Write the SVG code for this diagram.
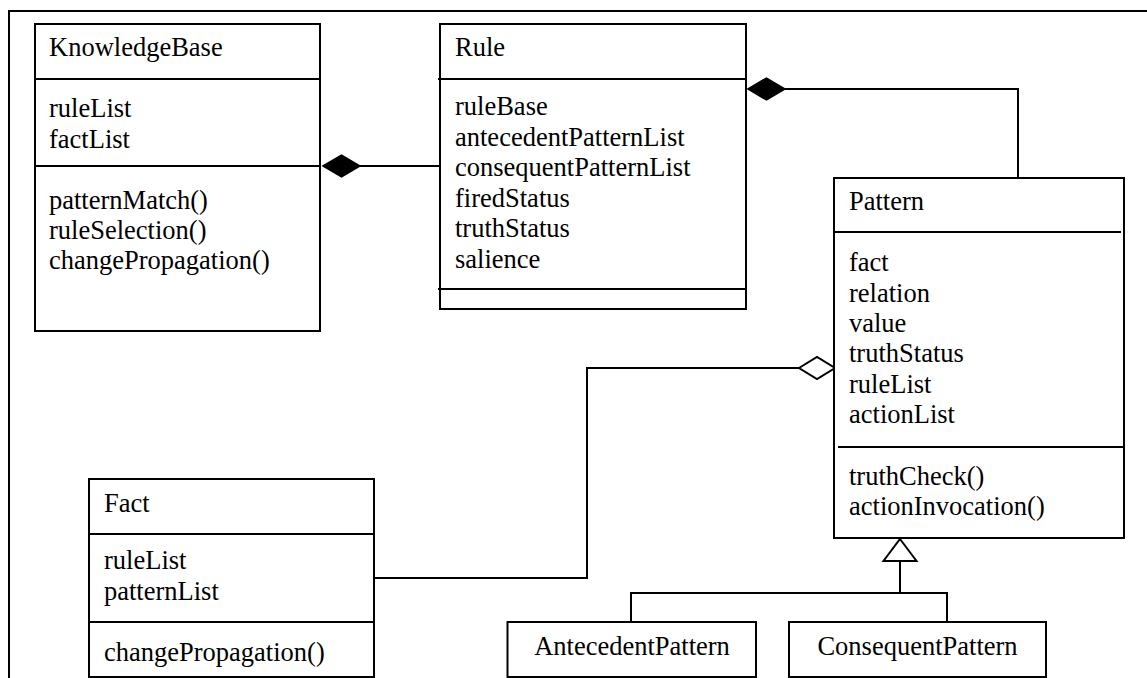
<svg xmlns="http://www.w3.org/2000/svg" width="1147" height="678" viewBox="0 0 1147 678">
  <style>
    .box { fill: #ffffff; stroke: #000000; stroke-width: 2; }
    .sep { stroke: #000000; stroke-width: 2; fill: none; }
    .wire { stroke: #000000; stroke-width: 2; fill: none; }
    .solid { fill: #000000; stroke: #000000; stroke-width: 1.5; }
    .hollow { fill: #ffffff; stroke: #000000; stroke-width: 2; }
    text { font-family: "Liberation Serif", "Times New Roman", serif; font-size: 26.5px; fill: #000000; }
    .mid { text-anchor: middle; }
  </style>

  <rect width="1147" height="678" fill="#ffffff"/>

  <!-- enclosing frame (open to the right and bottom) -->
  <polyline class="wire" points="9,678 9,11 1147,11"/>

  <!-- connectors -->
  <g id="connectors">
    <!-- KnowledgeBase ◆— Rule -->
    <line class="wire" x1="360" y1="166" x2="440" y2="166"/>
    <polygon class="solid" points="323,166 341.5,155 360,166 341.5,177"/>
    <!-- Rule ◆— Pattern -->
    <polyline class="wire" points="785,89 1018,89 1018,178"/>
    <polygon class="solid" points="748,89 766.5,78 785,89 766.5,100"/>
    <!-- Pattern ◇— Fact -->
    <polyline class="wire" points="799,368 587,368 587,578 374,578"/>
    <polygon class="hollow" points="799,368 817,357 835,368 817,379"/>
    <!-- generalisation: AntecedentPattern / ConsequentPattern → Pattern -->
    <polyline class="wire" points="631,622 631,593 947,593 947,622"/>
    <line class="wire" x1="900" y1="593" x2="900" y2="561"/>
    <polygon class="hollow" points="900,539 916.5,561 883.5,561"/>
  </g>

  <!-- KnowledgeBase -->
  <g id="knowledgebase">
    <rect class="box" x="35" y="24" width="285" height="307"/>
    <line class="sep" x1="35" y1="79" x2="320" y2="79"/>
    <line class="sep" x1="35" y1="166" x2="320" y2="166"/>
    <text x="49" y="56">KnowledgeBase</text>
    <text x="49" y="117">ruleList</text>
    <text x="49" y="148">factList</text>
    <text x="49" y="209">patternMatch()</text>
    <text x="49" y="239">ruleSelection()</text>
    <text x="49" y="269">changePropagation()</text>
  </g>

  <!-- Rule -->
  <g id="rule">
    <rect class="box" x="440" y="24" width="306" height="285"/>
    <line class="sep" x1="438" y1="79" x2="746" y2="79"/>
    <line class="sep" x1="438" y1="289" x2="746" y2="289"/>
    <text x="455" y="56">Rule</text>
    <text x="455" y="115">ruleBase</text>
    <text x="455" y="145.5">antecedentPatternList</text>
    <text x="455" y="176">consequentPatternList</text>
    <text x="455" y="206.5">firedStatus</text>
    <text x="455" y="237">truthStatus</text>
    <text x="455" y="267.5">salience</text>
  </g>

  <!-- Pattern -->
  <g id="pattern">
    <rect class="box" x="834" y="178" width="290" height="360"/>
    <line class="sep" x1="834" y1="232" x2="1121" y2="232"/>
    <line class="sep" x1="838" y1="447" x2="1124" y2="447"/>
    <text x="849" y="210">Pattern</text>
    <text x="849" y="271">fact</text>
    <text x="849" y="302">relation</text>
    <text x="849" y="332">value</text>
    <text x="849" y="362">truthStatus</text>
    <text x="849" y="393">ruleList</text>
    <text x="849" y="423">actionList</text>
    <text x="849" y="485">truthCheck()</text>
    <text x="849" y="515">actionInvocation()</text>
  </g>

  <!-- Fact -->
  <g id="fact">
    <rect class="box" x="89" y="479" width="285" height="198"/>
    <line class="sep" x1="89" y1="534" x2="374" y2="534"/>
    <line class="sep" x1="89" y1="622" x2="374" y2="622"/>
    <text x="104" y="512">Fact</text>
    <text x="104" y="569">ruleList</text>
    <text x="104" y="600">patternList</text>
    <text x="104" y="661">changePropagation()</text>
  </g>

  <!-- AntecedentPattern -->
  <g id="antecedentpattern">
    <rect class="box" x="507.5" y="622" width="248.5" height="55"/>
    <text class="mid" x="632" y="655">AntecedentPattern</text>
  </g>

  <!-- ConsequentPattern -->
  <g id="consequentpattern">
    <rect class="box" x="789" y="622" width="257" height="55"/>
    <text class="mid" x="917.5" y="655">ConsequentPattern</text>
  </g>
</svg>
